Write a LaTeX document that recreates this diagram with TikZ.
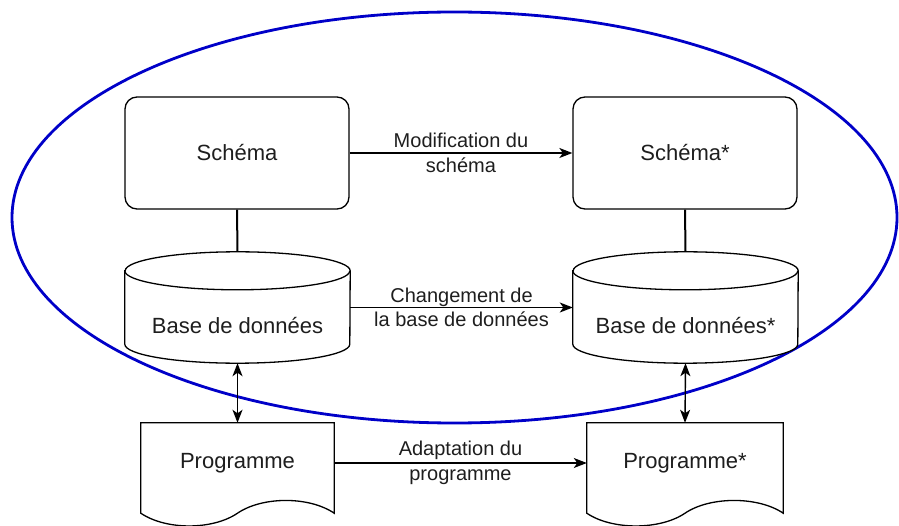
\documentclass[tikz,border=0pt]{standalone}
\usepackage{fontspec}
\setmainfont{Liberation Sans}
\usetikzlibrary{arrows.meta,calc}
\definecolor{txtcol}{RGB}{30,30,30}
\definecolor{ellblue}{RGB}{0,0,200}
\tikzset{
  boxnode/.style={draw=black, line width=1.3pt, rounded corners=12pt, fill=white, minimum width=224pt, minimum height=112pt, inner sep=0pt, text=txtcol, font=\fontsize{22}{26}\selectfont},
  regionnode/.style={draw=none, inner sep=0pt},
  txtnode/.style={text=txtcol, font=\fontsize{22}{26}\selectfont, inner sep=0pt},
  lblnode/.style={text=txtcol, font=\fontsize{20}{24.5}\selectfont, align=center, inner sep=0pt},
  shapeline/.style={draw=black, line width=1.3pt, fill=white},
  arrowline/.style={draw=black, line width=1.4pt, -{Stealth[length=13pt,width=10pt,inset=3.5pt]}},
  dblarrow/.style={draw=black, line width=1.4pt, {Stealth[length=13pt,width=10pt,inset=3.5pt]}-{Stealth[length=13pt,width=10pt,inset=3.5pt]}},
  linkline/.style={draw=black, line width=2pt},
}
\begin{document}
\begin{tikzpicture}[x=1pt,y=-1pt]
\useasboundingbox (0,0) rectangle (899,526);
% big blue ellipse
\draw[ellblue, line width=2.8pt] (454.5,217.5) ellipse [x radius=442.5pt, y radius=205.5pt];

% Schema boxes
\node[boxnode] (s1) at (237,153) {Schéma};
\node[boxnode] (s2) at (685,153) {Schéma*};

% cylinder regions
\node[regionnode, minimum width=225pt, minimum height=111pt] (db1) at (237.5,307.5) {};
\node[regionnode, minimum width=225pt, minimum height=111pt] (db2) at (685.5,307.5) {};
\foreach \n in {db1,db2}{
  \draw[shapeline] ([yshift=-19pt]\n.north west) -- ([yshift=19pt]\n.south west)
     arc[start angle=180, end angle=360, x radius=112.5pt, y radius=19pt]
     -- ([yshift=-19pt]\n.north east)
     arc[start angle=0, end angle=180, x radius=112.5pt, y radius=19pt] -- cycle;
  \draw[shapeline, fill=none] ([yshift=-19pt]\n.north west)
     arc[start angle=180, end angle=360, x radius=112.5pt, y radius=19pt];
}
\node[txtnode] (db1t) at (237.5,326) {Base de données};
\node[txtnode] (db2t) at (685.5,326) {Base de données*};

% documents
\node[regionnode, minimum width=193pt, minimum height=90pt] (p1) at (237.5,468) {};
\node[regionnode, minimum width=196pt, minimum height=90pt] (p2) at (685,468) {};
\foreach \n in {p1,p2}{
  \draw[shapeline] (\n.north west) -- (\n.north east) -- (\n.south east)
    .. controls +(-25,-17) and +(25,-17) .. (\n.south)
    .. controls +(-25,17) and +(25,17) .. (\n.south west) -- cycle;
}
\node[txtnode] (p1t) at (237.5,463) {Programme};
\node[txtnode] (p2t) at (685,463) {Programme*};

% connectors
\draw[linkline] (s1.south) -- (db1.north);
\draw[linkline] (s2.south) -- (db2.north);
\draw[arrowline] (s1.east) -- (s2.west);
\draw[arrowline] (db1.east) -- (db2.west);
\draw[arrowline] ([yshift=5pt]p1.east) -- ([yshift=5pt]p2.west);
\draw[dblarrow] (db1.south) -- (p1.north);
\draw[dblarrow] (db2.south) -- (p2.north);

% labels
\node[lblnode] (l1) at ($(s1.east)!0.5!(s2.west)$) {Modification du\\schéma};
\node[lblnode] (l2) at ($(db1.east)!0.5!(db2.west)$) {Changement de\\la base de données};
\node[lblnode] (l3) at ($([yshift=5pt]p1.east)!0.5!([yshift=5pt]p2.west)$) {Adaptation du\\programme};
\end{tikzpicture}
\end{document}
